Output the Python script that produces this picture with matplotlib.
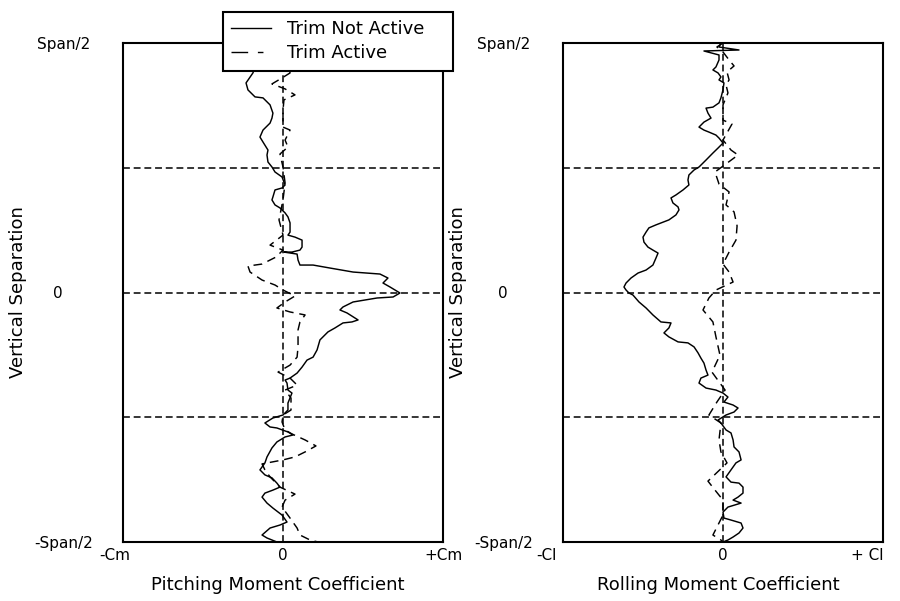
import matplotlib
matplotlib.use('Agg')
import matplotlib.pyplot as plt
import matplotlib.transforms as mtransforms
from matplotlib.lines import Line2D

plt.rcParams['font.family'] = ['DejaVu Sans']
FS = 13
TFS = 11

# Values: x in % of the coefficient scale (Cm or Cl), y in % of Span/2
pitch_off_x = [-19.4, -17.5, -18.1, -18.8, -23.1, -21.9, -17.5, -12.5, -8.1, -6.3, -6.9, -8.1, -12.5, -14.4,
               -12.5, -9.4, -10.0, -9.4, -6.9, -5.0, -0.6, 1.3, -0.6, -5.0, -6.3, -6.9, -5.0, -1.9, 1.3, 3.1,
               4.4, 4.4, 3.1, 7.5, 11.9, 11.9, 10.6, 5.6, 0.6, 8.8, 9.4, 10.6, 18.8, 29.4, 43.8, 60.6, 65.6,
               62.5, 66.9, 73.1, 68.8, 58.8, 43.8, 37.5, 35.6, 40.0, 46.9, 43.1, 37.5, 32.5, 28.1, 23.1, 21.3,
               18.8, 15.0, 11.9, 8.8, 4.4, 1.3, 2.5, 3.1, 5.6, 3.1, 3.1, 0.0, -6.3, -11.3, -8.1, -3.8, 3.1,
               6.3, 1.3, -3.8, -6.9, -10.0, -11.3, -14.4, -11.3, -6.9, -3.8, -1.9, -6.3, -11.3, -13.1, -10.0,
               -6.3, -0.6, 2.5, -1.9, -8.1, -13.1, -10.0, -3.8]
pitch_off_y = [100.0, 93.2, 89.2, 88.0, 84.0, 81.2, 78.4, 78.0, 75.2, 71.9, 69.9, 67.9, 65.1, 62.3,
               60.3, 57.1, 55.1, 52.3, 50.3, 48.3, 46.3, 43.1, 41.9, 41.1, 38.3, 37.1, 35.1, 33.9, 31.9, 30.3,
               27.9, 24.2, 23.0, 22.2, 21.0, 18.2, 17.0, 16.2, 16.2, 15.4, 13.0, 11.0, 11.0, 9.8, 8.2, 7.4, 5.8,
               3.8, 2.2, -0.2, -1.8, -2.2, -3.8, -5.8, -7.0, -8.2, -11.0, -11.8, -12.2, -14.2, -15.8, -19.0, -23.0,
               -25.9, -27.1, -29.9, -32.3, -34.3, -35.1, -36.3, -39.1, -40.3, -44.3, -47.1, -49.1, -50.3, -52.3,
               -53.9, -54.3, -55.9, -57.1, -57.9, -59.9, -62.3, -65.9, -68.3, -71.1, -73.1, -74.3, -76.4, -78.0,
               -79.2, -80.4, -82.0, -84.4, -86.4, -89.2, -92.0, -93.2, -94.4, -97.2, -98.4, -100.0]

pitch_on_x = [1.3, 3.1, 4.4, -0.6, -6.9, 1.3, 7.5, 0.6, 0.0, 0.0, 4.4, 1.3, 3.1, -1.9, 0.0, 1.3, 0.0, -2.5,
              0.0, -8.1, 0.0, -4.4, -13.1, -21.9, -20.6, -13.1, -5.0, 0.0, 7.5, 1.3, -3.8, 4.4, 13.8, 10.6,
              9.4, 9.4, 8.8, 4.4, -3.1, 4.4, 8.8, 1.3, 5.0, 5.0, 0.0, -0.6, 1.3, 5.6, 13.8, 20.6, 13.8, 7.5,
              0.0, -13.1, -11.3, -8.1, -1.9, 7.5, 1.3, -0.6, 4.4, 8.8, 10.6, 16.9, 21.9]
pitch_on_y = [100.0, 93.2, 88.0, 86.0, 83.6, 81.6, 79.2, 77.2, 73.1, 66.3, 65.1, 61.1, 58.3, 55.5, 50.3,
              43.9, 37.1, 29.1, 23.0, 19.0, 17.0, 14.2, 11.4, 10.6, 8.2, 5.0, 3.0, 1.0, -1.4, -3.8, -6.2, -7.8,
              -9.0, -11.8, -15.0, -21.8, -25.9, -29.1, -31.9, -34.3, -37.1, -39.1, -42.3, -47.1, -49.1, -51.9,
              -55.1, -56.7, -59.1, -61.5, -63.9, -65.9, -67.1, -68.7, -71.1, -73.9, -78.0, -80.8, -83.2, -86.0,
              -90.4, -94.4, -97.2, -99.2, -100.0]

roll_off_x = [-1.3, -2.5, 10.0, -11.9, -2.5, -2.5, -4.4, -6.3, -3.1, -1.3, -2.5, 0.6, 0.0, -1.3, -2.5, -6.3,
              -10.6, -9.4, -7.5, -11.9, -15.0, -11.9, -8.8, -4.4, -2.5, 0.0, -3.1, -6.3, -10.6, -15.0, -18.1,
              -21.3, -21.9, -21.3, -25.0, -29.4, -32.5, -31.3, -28.1, -27.5, -29.4, -33.8, -41.9, -46.3, -48.1,
              -50.0, -49.4, -46.9, -43.8, -40.6, -41.9, -43.8, -48.1, -53.1, -57.5, -60.6, -61.9, -60.6, -58.8,
              -56.3, -52.5, -48.1, -43.8, -38.8, -32.5, -33.8, -36.9, -33.8, -28.1, -21.9, -18.1, -15.6, -13.8,
              -11.9, -10.6, -9.4, -13.8, -15.0, -10.6, -4.4, 0.0, 3.1, 0.6, 6.3, 9.4, 6.9, 1.9, -3.1, -1.3, 1.9,
              5.0, 6.3, 6.9, 10.0, 11.3, 8.1, 5.0, 1.9, 5.0, 10.0, 12.5, 12.5, 9.4, 6.3, 11.3, 3.1, 0.0, 0.6,
              5.0, 11.3, 12.5, 10.0, 6.3, 3.1, 0.0]
roll_off_y = [100.0, 98.4, 97.2, 96.8, 95.2, 93.2, 90.4, 89.2, 88.0, 86.4, 85.2, 84.0, 81.2, 78.0, 76.0, 74.3,
              73.9, 71.9, 69.9, 68.3, 66.3, 65.1, 64.3, 63.1, 61.9, 59.9, 57.9, 55.9, 53.1, 50.3, 49.1,
              47.1, 45.1, 43.1, 41.1, 39.1, 37.9, 35.9, 34.3, 33.1, 31.1, 29.1, 27.1, 25.9, 24.2,
              22.2, 20.2, 18.2, 17.0, 15.8, 13.8, 11.0, 9.0, 7.8, 5.8, 3.8, 2.2, 1.0, -0.2,
              -1.0, -3.8, -6.2, -9.0, -11.8, -12.2, -14.2, -16.2, -17.8, -19.8, -20.2, -21.8, -24.2, -26.3,
              -28.3, -31.1, -33.1, -34.3, -36.3, -38.3, -39.1, -40.3, -41.9, -43.9, -45.1, -46.3, -47.9, -49.1,
              -51.1, -52.3, -55.1, -56.3, -59.1, -61.9, -63.9, -67.1, -68.3, -71.1, -73.9, -76.0, -76.4, -78.0,
              -80.4, -82.0, -83.2, -84.4, -86.0, -88.0, -90.4, -91.2, -92.4, -94.4, -96.4, -98.0, -99.2, -100.0]

roll_on_x = [0.0, -3.8, 0.0, 3.8, 6.9, 2.5, 3.8, 1.9, 3.1, 0.0, 0.0, 5.6, 0.0, 5.0, 9.4, -5.0, -2.5, 3.8,
             1.9, 6.9, 8.8, 8.1, 3.8, 0.0, 3.8, 6.3, -4.4, -8.8, -12.5, -6.3, -4.4, -1.9, -6.9, 1.3, -3.8,
             -8.8, -1.3, -2.5, -1.3, 2.5, -9.4, -5.0, 0.0, 0.0, -6.3, -1.3, 0.0]
roll_on_y = [100.0, 98.4, 96.4, 93.2, 90.8, 88.4, 85.2, 83.2, 80.0, 75.2, 69.1, 67.5, 61.1, 57.1, 55.1, 48.3,
             43.5, 40.3, 35.1, 32.3, 26.7, 21.0, 16.2, 11.4, 8.2, 4.2, 1.0, -2.2, -7.0, -11.8, -17.8, -25.1,
             -31.9, -39.1, -43.9, -49.1, -52.3, -59.1, -63.9, -68.3, -75.6, -79.2, -83.2, -89.2, -97.2, -99.2,
             -100.0]

series_labels = ['Trim Not Active', 'Trim Active']
y_ticks = [100, 0, -100]
y_ticklabels = ['Span/2', '0', '-Span/2']
x_ticks = [-100, 0, 100]
pitch_xticklabels = ['-Cm', '0', '+Cm']
roll_xticklabels = ['-Cl', '0', '+ Cl']
grid_y = [50, 0, -50]

W, H = 900, 601
fig = plt.figure(figsize=(9, 6.01), dpi=100)
ax1 = fig.add_axes([123 / W, 1 - 542 / H, 320 / W, 499 / H])
ax2 = fig.add_axes([563 / W, 1 - 542 / H, 320 / W, 499 / H])

data_dash = (0, (6, 4))
grid_dash = (0, (4.5, 2.5))

def shift(label, dx_px):
    label.set_transform(label.get_transform() +
                        mtransforms.ScaledTranslation(dx_px / 100, 0, fig.dpi_scale_trans))

def setup(ax, xs_off, ys_off, xs_on, ys_on, xticklabels, xlabel):
    for gy in grid_y:
        ax.axhline(gy, color='black', lw=1.1, linestyle=grid_dash, zorder=1)
    ax.axvline(0, color='black', lw=1.1, linestyle=grid_dash, zorder=1)
    ax.plot(xs_off, ys_off, color='black', lw=1.05, zorder=3)
    ax.plot(xs_on, ys_on, color='black', lw=1.05, linestyle=data_dash, zorder=3)
    ax.set_xlim(-100, 100)
    ax.set_ylim(-100, 100)
    ax.set_yticks(y_ticks)
    ax.set_yticklabels(y_ticklabels, fontsize=TFS)
    for t in ax.get_yticklabels():
        t.set_ha('center')
    ax.tick_params(axis='y', length=0, pad=43)
    ax.set_xticks(x_ticks)
    ax.set_xticklabels(xticklabels, fontsize=TFS)
    ax.tick_params(axis='x', length=0, pad=4)
    ax.set_xlabel(xlabel, fontsize=FS)
    ax.xaxis.set_label_coords(0.484, -0.068)
    ax.set_ylabel('Vertical Separation', fontsize=FS)
    ax.yaxis.set_label_coords(-0.30, 0.5)
    for s in ax.spines.values():
        s.set_linewidth(1.5)
        s.set_color('black')
        s.set_zorder(4)

setup(ax1, pitch_off_x, pitch_off_y, pitch_on_x, pitch_on_y, pitch_xticklabels, 'Pitching Moment Coefficient')
setup(ax2, roll_off_x, roll_off_y, roll_on_x, roll_on_y, roll_xticklabels, 'Rolling Moment Coefficient')

l1 = ax1.get_xticklabels()
shift(l1[0], -8)
shift(ax1.get_yticklabels()[1], -5)
l2 = ax2.get_xticklabels()
shift(l2[0], -17)
shift(l2[2], -16)

handles = [Line2D([], [], color='black', lw=1.0),
           Line2D([], [], color='black', lw=1.0, linestyle=(0, (12, 7, 4, 30)))]
leg = fig.legend(handles, series_labels, loc='upper left',
                 bbox_to_anchor=(223 / W, 1 - 70 / H, 230 / W, 58 / H), mode='expand',
                 borderaxespad=0, borderpad=0.45, labelspacing=0.35, handlelength=2.2,
                 handletextpad=0.9, fontsize=FS, fancybox=False, framealpha=1,
                 edgecolor='black', facecolor='white')
leg.get_frame().set_linewidth(1.5)
leg.set_zorder(10)

fig.savefig('out.png', dpi=100)
